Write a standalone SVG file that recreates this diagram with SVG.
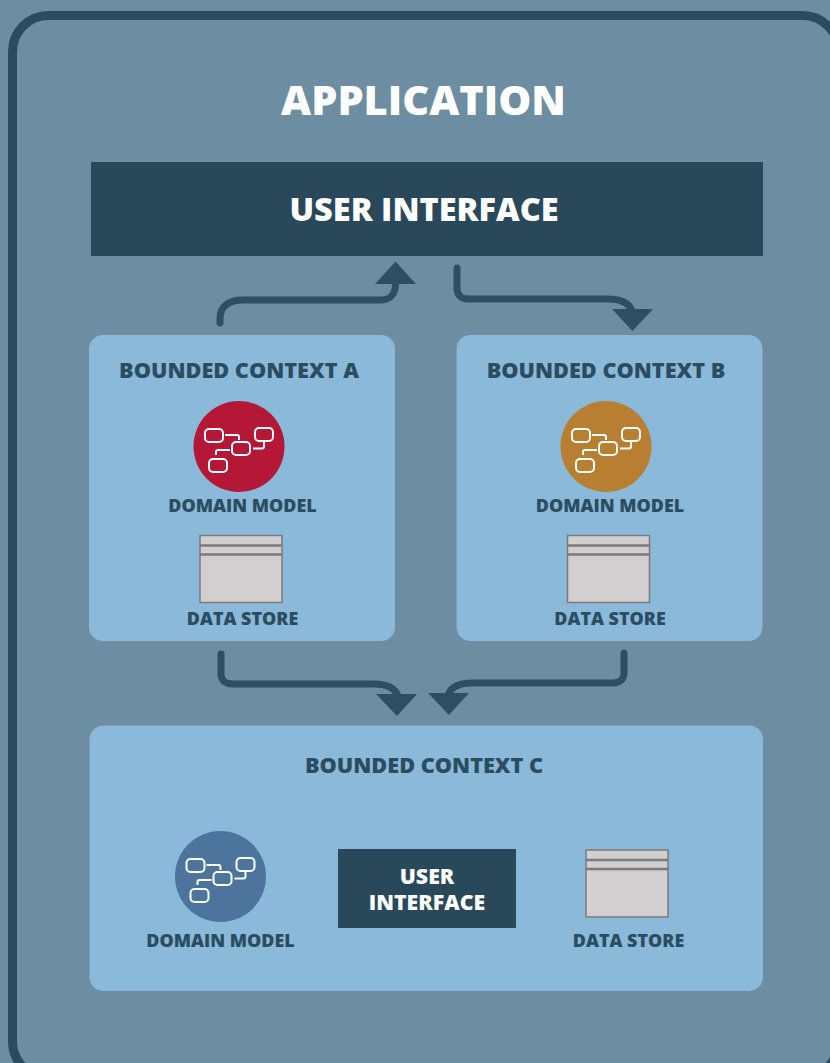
<svg xmlns="http://www.w3.org/2000/svg" xmlns:xlink="http://www.w3.org/1999/xlink" width="830" height="1063" viewBox="0 0 830 1063">
<style>
text{font-family:"Open Sans","Noto Sans","Liberation Sans",sans-serif;font-weight:800;text-anchor:middle}
.lbl{font-size:17.900px;fill:#2c4c5f}
.ctx{font-size:21.700px;fill:#2c4c5f}
.panel{fill:#8ab9d9}
.wire{fill:none;stroke:#2e4f62;stroke-width:7;stroke-linecap:round;stroke-linejoin:round}
.head{fill:#2e4f62}
.ic{fill:none;stroke:#fff;stroke-width:2}
.st{fill:#d2cfd0;stroke:#7c7a7b;stroke-width:1.5}
.ln{stroke:#7c7a7b;stroke-width:2.5}
</style>
<defs>
<g id="model">
<rect class="ic" x="-34" y="-17" width="18" height="13" rx="4"/>
<rect class="ic" x="16" y="-18" width="18" height="13" rx="4"/>
<rect class="ic" x="-7" y="-4" width="18" height="13" rx="4"/>
<rect class="ic" x="-30" y="13" width="18" height="13" rx="4"/>
<path class="ic" d="M-14-11H-2Q0-11 0-9V-6M14 2.500H23Q25 2.500 25 0.500V-4M-9 4H-21Q-23 4-23 6V9"/>
</g>
<g id="store">
<rect class="st" x="0" y="0" width="82" height="67"/>
<path class="ln" d="M0 10H82M0 19H82"/>
</g>
</defs>
<rect width="830" height="1063" fill="#6d8da2"/>
<rect id="frame" x="12.500" y="15.500" width="826" height="1062" rx="36" fill="none" stroke="#2b4b5e" stroke-width="9"/>
<text x="423.500" y="115" fill="#fff" style="font-size:41.500px">APPLICATION</text>
<g id="ui-main">
<rect x="91" y="162" width="672" height="94" fill="#29485a"/>
<text x="424" y="221" fill="#fff" style="font-size:32.500px">USER INTERFACE</text>
</g>
<g id="connectors">
<path class="wire" d="M220 323V319C220 306 229 300 243 300H381C390 300 395.500 294 395.500 284"/>
<polygon class="head" points="395.500,261.500 375,284 416,284"/>
<path class="wire" d="M457 268V288C457 295 461 299 468 299H608C620 299 629 303 632 311"/>
<polygon class="head" points="612,309 653,309 632.500,331"/>
<path class="wire" d="M221 654V674C221 680 225 684 232 684H374C386 684 395 688 398 696"/>
<polygon class="head" points="376,694 417,694 397,716"/>
<path class="wire" d="M624 653V673C624 679 620 683 613 683H472C460 683 451 687 448 695"/>
<polygon class="head" points="428,693 469,693 449,715"/>
</g>
<g id="context-a">
<rect class="panel" x="89" y="335" width="306" height="306" rx="14"/>
<text class="ctx" x="239" y="377.700">BOUNDED CONTEXT A</text>
<circle cx="239" cy="446.500" r="45.500" fill="#b51737"/>
<use xlink:href="#model" href="#model" x="239" y="446"/>
<text class="lbl" x="242.500" y="512">DOMAIN MODEL</text>
<use xlink:href="#store" href="#store" x="200" y="535.500"/>
<text class="lbl" x="242.500" y="625">DATA STORE</text>
</g>
<g id="context-b">
<rect class="panel" x="456.500" y="335" width="306" height="306" rx="14"/>
<text class="ctx" x="606" y="377.700">BOUNDED CONTEXT B</text>
<circle cx="606" cy="446.500" r="45.500" fill="#b87f33"/>
<use xlink:href="#model" href="#model" x="606" y="446"/>
<text class="lbl" x="610" y="512">DOMAIN MODEL</text>
<use xlink:href="#store" href="#store" x="567.500" y="535.500"/>
<text class="lbl" x="610" y="625">DATA STORE</text>
</g>
<g id="context-c">
<rect class="panel" x="89.500" y="725.500" width="673.500" height="265.500" rx="14"/>
<text class="ctx" x="424" y="772.700">BOUNDED CONTEXT C</text>
<circle cx="220.500" cy="876.500" r="45.500" fill="#4c749c"/>
<use xlink:href="#model" href="#model" x="220.500" y="876"/>
<text class="lbl" x="220.500" y="947">DOMAIN MODEL</text>
<g id="ui-inner">
<rect x="338" y="849" width="178" height="79" fill="#29485a"/>
<text fill="#fff" style="font-size:21.300px"><tspan x="427" y="884">USER</tspan><tspan x="427" y="909.500">INTERFACE</tspan></text>
</g>
<use xlink:href="#store" href="#store" x="586" y="850"/>
<text class="lbl" x="628.500" y="947">DATA STORE</text>
</g>
</svg>
